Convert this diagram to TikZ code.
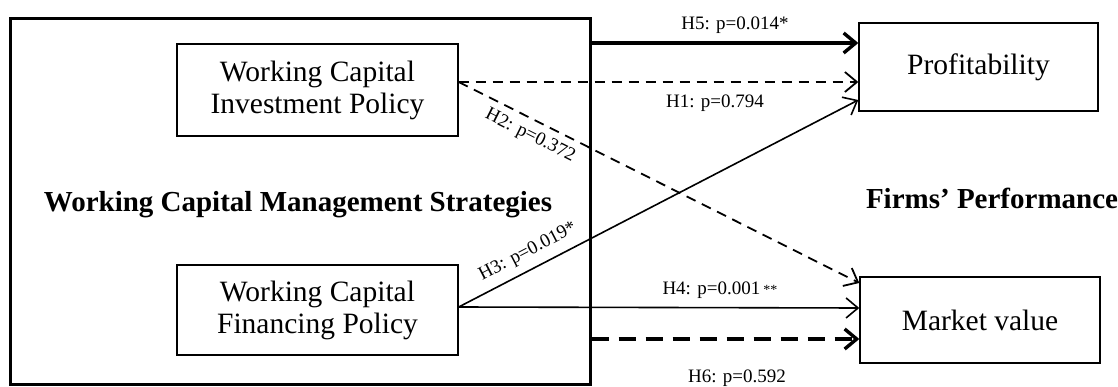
\documentclass[tikz,border=0pt]{standalone}
\usepackage{fontspec}
\setmainfont{Liberation Serif}
\usetikzlibrary{arrows.meta}
\begin{document}
\begin{tikzpicture}[x=1pt,y=-1pt,
  box/.style={draw, line width=1.4pt, inner sep=0pt, align=center, font=\fontsize{29.5}{32}\selectfont},
  bigbold/.style={inner sep=0pt, font=\bfseries\fontsize{29}{32}\selectfont},
  lbl/.style={inner sep=0pt, font=\fontsize{19}{22}\selectfont},
  arrsolid/.style={line width=1.6pt, -{Straight Barb[length=12pt,width=20pt]}},
  arrdash/.style={line width=1.8pt, dash pattern=on 10pt off 7pt, -{Straight Barb[length=12pt,width=20pt]}},
  arrheavy/.style={line width=3.4pt, -{Straight Barb[length=12pt,width=20pt]}},
  arrheavydash/.style={line width=3.4pt, dash pattern=on 17pt off 10pt, -{Straight Barb[length=12pt,width=20pt]}},
]
\useasboundingbox (0,0) rectangle (1118,387);
\node[draw, line width=3pt, minimum width=580pt, minimum height=365pt, inner sep=0pt] (outer) at (300,201.5) {};
\node[box, minimum width=281pt, minimum height=92pt] (inv) at (317.5,90) {Working Capital\\Investment Policy};
\node[box, minimum width=281pt, minimum height=90pt] (fin) at (317.5,310) {Working Capital\\Financing Policy};
\node[box, minimum width=239pt, minimum height=88pt] (prof) at (978.5,67) {\raisebox{-3pt}{Profitability}};
\node[box, minimum width=240pt, minimum height=86pt] (mv) at (980,320) {Market value};
\node[bigbold] (wcms) at (298,205) {Working Capital Management Strategies};
\node[bigbold] (fp) at (992,198) {Firms’ Performance};

\coordinate (i0) at ([yshift=8pt]inv.east);
\coordinate (f0) at ([yshift=3pt]fin.east);
\coordinate (p5) at ([yshift=24pt]prof.west);
\coordinate (p1) at ([yshift=-15pt]prof.west);
\coordinate (p3) at ([yshift=-33pt]prof.west);
\coordinate (m2) at ([yshift=37pt]mv.west);
\coordinate (m4) at ([yshift=12pt]mv.west);
\coordinate (m6) at ([yshift=-19pt]mv.west);

\draw[arrheavy] (outer.east |- p5) -- (p5);
\draw[arrdash] (i0) -- (p1);
\draw[arrdash] (i0) -- (m2);
\draw[arrsolid] (f0) -- (p3);
\draw[arrsolid] (f0) -- (m4);
\draw[arrheavydash] (outer.east |- m6) -- (m6);

\node[lbl] (l5) at (735,25) {H5: p=0.014*};
\node[lbl] (l1) at (715,103.5) {H1: p=0.794};
\node[lbl, rotate=-26.7] (l2) at (530,136) {H2: p=0.372};
\node[lbl, rotate=27.4] (l3) at (528,252) {H3: p=0.019*};
\node[lbl] (l4) at (720,290.5) {H4: p=0.001\,{\fontsize{14}{14}\selectfont **}};
\node[lbl] (l6) at (737,378.5) {H6: p=0.592};
\end{tikzpicture}
\end{document}
